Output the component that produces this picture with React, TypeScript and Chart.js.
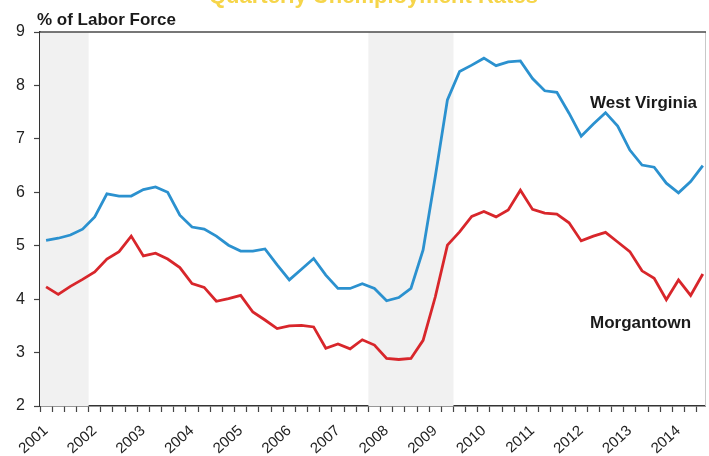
import { useEffect, useRef } from "react";
import { Chart, registerables } from "chart.js";

Chart.register(...registerables);

// Quarterly unemployment rate, Q1 2001 through Q3 2014 (% of labor force)
const firstYear = 2001;
const westVirginia = [
  5.10, 5.14, 5.20, 5.31, 5.54, 5.97, 5.93, 5.93, 6.05, 6.10, 6.00, 5.57, 5.35, 5.31,
  5.18, 5.01, 4.90, 4.90, 4.94, 4.64, 4.36, 4.56, 4.76, 4.45, 4.20, 4.20, 4.29, 4.20,
  3.97, 4.03, 4.20, 4.92, 6.29, 7.73, 8.26, 8.38, 8.51, 8.37, 8.44, 8.46, 8.13, 7.90,
  7.87, 7.48, 7.05, 7.28, 7.49, 7.24, 6.79, 6.51, 6.47, 6.17, 5.99, 6.20, 6.50,
];
const morgantown = [
  4.23, 4.09, 4.24, 4.37, 4.51, 4.75, 4.89, 5.18, 4.81, 4.86, 4.75, 4.59, 4.29, 4.22,
  3.96, 4.01, 4.07, 3.76, 3.61, 3.45, 3.50, 3.51, 3.48, 3.08, 3.16, 3.07, 3.24, 3.14,
  2.89, 2.87, 2.89, 3.23, 4.04, 5.01, 5.26, 5.55, 5.64, 5.54, 5.67, 6.04, 5.68, 5.61,
  5.59, 5.43, 5.09, 5.18, 5.25, 5.07, 4.89, 4.53, 4.39, 3.99, 4.36, 4.07, 4.47,
];
const yearLabels = [2001, 2002, 2003, 2004, 2005, 2006, 2007, 2008, 2009, 2010, 2011, 2012, 2013, 2014];
// Recession periods, in fractional years
const recessions = [
  [2001, 2002],
  [2007.75, 2009.5],
];
const yTicks = [2, 3, 4, 5, 6, 7, 8, 9];

const FONT = "'Liberation Sans', Arial, Helvetica, sans-serif";
const BLUE = "#2b91cf";
const RED = "#d8262b";

// each quarterly value sits at the middle of its quarter
const toPoints = (vals: number[]) =>
  vals.map((v, i) => ({ x: firstYear + 0.125 + i * 0.25, y: v }));

const decorations = {
  id: "decorations",
  beforeDatasetsDraw(chart: any) {
    const { ctx, chartArea, scales } = chart;
    ctx.save();
    ctx.fillStyle = "#f1f1f1";
    for (const [a, b] of recessions) {
      const x0 = Math.max(scales.x.getPixelForValue(a), chartArea.left);
      const x1 = Math.min(scales.x.getPixelForValue(b), chartArea.right);
      ctx.fillRect(x0, chartArea.top, x1 - x0, chartArea.bottom - chartArea.top);
    }
    ctx.restore();
  },
  afterDraw(chart: any) {
    const { ctx, chartArea } = chart;
    ctx.save();
    // frame: top edge dark, right edge light
    ctx.strokeStyle = "#c8c8c8";
    ctx.lineWidth = 1;
    ctx.beginPath();
    ctx.moveTo(chartArea.right + 0.5, chartArea.top);
    ctx.lineTo(chartArea.right + 0.5, chartArea.bottom);
    ctx.stroke();
    ctx.strokeStyle = "#4a4a4a";
    ctx.lineWidth = 1.5;
    ctx.beginPath();
    ctx.moveTo(chartArea.left, chartArea.top);
    ctx.lineTo(chartArea.right + 1, chartArea.top);
    ctx.stroke();

    // title, mostly above the top edge of the canvas
    ctx.fillStyle = "#f6d54a";
    ctx.font = `bold 22px ${FONT}`;
    ctx.textAlign = "left";
    ctx.textBaseline = "alphabetic";
    ctx.fillText("Quarterly Unemployment Rates", 209, 2.5);

    // axis title
    ctx.fillStyle = "#1a1a1a";
    ctx.font = `bold 17px ${FONT}`;
    ctx.textBaseline = "middle";
    ctx.fillText("% of Labor Force", 37, 20);

    // series labels
    ctx.fillText("West Virginia", 590, 103);
    ctx.fillText("Morgantown", 590, 323);
    ctx.restore();
  },
};

export default function App() {
  const ref = useRef<HTMLCanvasElement | null>(null);

  useEffect(() => {
    if (!ref.current) return;
    const chart = new Chart(ref.current, {
      type: "line",
      data: {
        datasets: [
          {
            label: "West Virginia",
            data: toPoints(westVirginia),
            borderColor: BLUE,
            borderWidth: 2.8,
            pointRadius: 0,
            tension: 0,
          },
          {
            label: "Morgantown",
            data: toPoints(morgantown),
            borderColor: RED,
            borderWidth: 2.8,
            pointRadius: 0,
            tension: 0,
          },
        ],
      },
      options: {
        responsive: false,
        animation: false,
        events: [],
        layout: { padding: { top: 32, right: 4, left: 0, bottom: 0 } },
        plugins: {
          legend: { display: false },
          tooltip: { enabled: false },
          title: { display: false },
        },
        scales: {
          x: {
            type: "linear",
            min: firstYear,
            max: 2014.67,
            afterFit: (s: any) => {
              s.height = 50;
              s.paddingLeft = 0;
              s.paddingRight = 0;
            },
            afterBuildTicks: (s: any) => {
              const t = [];
              for (let q = 0; q <= 54; q++) t.push({ value: firstYear + q * 0.25 });
              s.ticks = t;
            },
            grid: {
              drawOnChartArea: false,
              drawTicks: true,
              tickLength: 6,
              tickColor: "#444",
              tickWidth: 1.2,
            },
            border: { display: true, color: "#333", width: 1.6 },
            ticks: {
              autoSkip: false,
              minRotation: 42,
              maxRotation: 42,
              padding: 10,
              labelOffset: 6,
              color: "#222",
              font: { family: FONT, size: 15 },
              callback: (v: any) => {
                const n = Number(v);
                return yearLabels.includes(n) ? String(n) : "";
              },
            },
          },
          y: {
            min: 2,
            max: 9,
            afterFit: (s: any) => {
              s.width = 40;
              s.paddingTop = 0;
              s.paddingBottom = 0;
            },
            afterBuildTicks: (s: any) => {
              s.ticks = yTicks.map((v) => ({ value: v }));
            },
            grid: {
              drawOnChartArea: false,
              drawTicks: true,
              tickLength: 6,
              tickColor: "#444",
              tickWidth: 1.2,
            },
            border: { display: true, color: "#333", width: 1.6 },
            ticks: {
              padding: 9,
              color: "#222",
              font: { family: FONT, size: 16 },
            },
          },
        },
      },
      plugins: [decorations],
    });
    return () => chart.destroy();
  }, []);

  return (
    <div style={{ position: "fixed", left: 0, top: 0, width: 709, height: 456, background: "#fff" }}>
      <canvas ref={ref} width={709} height={456} style={{ display: "block" }} />
    </div>
  );
}
